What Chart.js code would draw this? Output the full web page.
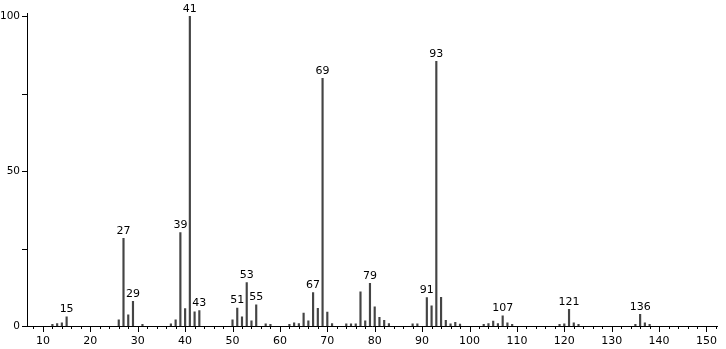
<!DOCTYPE html>
<html>
<head>
<meta charset="utf-8">
<script src="https://cdn.jsdelivr.net/npm/chart.js@4.4.0/dist/chart.umd.min.js"></script>
<style>
  html, body { margin: 0; padding: 0; background: #fff; }
  #wrap { width: 726px; height: 349px; }
</style>
</head>
<body>
<div id="wrap"><canvas id="chart"></canvas></div>
<script>
// m/z values and relative intensities
const masses = [12, 13, 14, 15, 26, 27, 28, 29, 31, 37, 38, 39, 40, 41, 42, 43,
  50, 51, 52, 53, 54, 55, 57, 58, 62, 63, 64, 65, 66, 67, 68, 69, 70, 71,
  74, 75, 76, 77, 78, 79, 80, 81, 82, 83, 88, 89, 91, 92, 93, 94, 95, 96, 97, 98,
  103, 104, 105, 106, 107, 108, 109, 119, 120, 121, 122, 123, 135, 136, 137, 138];
const intensities = [0.5, 0.8, 1.0, 3.0, 2.0, 28.3, 3.6, 8.0, 0.5, 0.7, 2.0, 30.2, 5.6, 100, 4.6, 5.0,
  2.0, 5.8, 3.0, 14.0, 1.7, 6.8, 0.7, 0.5, 0.5, 1.0, 0.8, 4.2, 1.7, 10.8, 5.7, 80, 4.5, 0.8,
  0.7, 0.7, 0.7, 11.0, 1.7, 13.8, 6.2, 2.8, 1.8, 0.8, 0.7, 0.7, 9.2, 6.5, 85.5, 9.3, 1.8, 0.7, 1.2, 0.6,
  0.5, 0.8, 1.6, 0.8, 3.3, 1.0, 0.5, 0.5, 0.7, 5.4, 1.0, 0.5, 0.5, 3.8, 1.0, 0.5];
const labeledPeaks = [15, 27, 29, 39, 41, 43, 51, 53, 55, 67, 69, 79, 91, 93, 107, 121, 136];
const xTickLabels = [10, 20, 30, 40, 50, 60, 70, 80, 90, 100, 110, 120, 130, 140, 150];
const yTickLabels = [0, 50, 100];
const yMinorTicks = [0, 25, 50, 75, 100];

const FONT = { family: "DejaVu Sans", size: 11 };

// peak labels above the marked bars
const peakLabels = {
  id: "peakLabels",
  afterDatasetsDraw(chart) {
    const { ctx, scales: { x, y } } = chart;
    ctx.save();
    ctx.font = `${FONT.size}px ${FONT.family}`;
    ctx.fillStyle = "#000";
    ctx.textAlign = "center";
    ctx.textBaseline = "bottom";
    labeledPeaks.forEach((m) => {
      const v = intensities[masses.indexOf(m)];
      ctx.fillText(String(m), x.getPixelForValue(m), y.getPixelForValue(v) - 2);
    });
    ctx.restore();
  },
};

// tick marks: x every 2 (longer on tens), y every 25
const tickMarks = {
  id: "tickMarks",
  afterDraw(chart) {
    const { ctx, scales: { x, y } } = chart;
    ctx.save();
    ctx.strokeStyle = "#000";
    ctx.lineWidth = 1;
    ctx.beginPath();
    for (let m = 8; m <= 152; m += 2) {
      const px = Math.round(x.getPixelForValue(m)) + 0.5;
      const len = m % 10 === 0 ? 6 : 3;
      ctx.moveTo(px, y.bottom);
      ctx.lineTo(px, y.bottom + len);
    }
    yMinorTicks.forEach((v) => {
      const py = Math.round(y.getPixelForValue(v)) + 0.5;
      ctx.moveTo(x.left - 5, py);
      ctx.lineTo(x.left, py);
    });
    ctx.stroke();
    ctx.restore();
  },
};

new Chart(document.getElementById("chart").getContext("2d"), {
  type: "bar",
  data: {
    datasets: [
      {
        data: masses.map((m, i) => ({ x: m, y: intensities[i] })),
        backgroundColor: "#444",
        barThickness: 1.5,
        grouped: false,
      },
    ],
  },
  options: {
    responsive: true,
    maintainAspectRatio: false,
    animation: false,
    layout: { padding: { top: 1, right: 1, left: 0, bottom: 0 } },
    plugins: { legend: { display: false }, tooltip: { enabled: false } },
    scales: {
      x: {
        type: "linear",
        offset: false,
        min: 6.64,
        max: 152.3,
        grid: { display: false, drawTicks: false },
        border: { display: true, color: "#000", width: 1 },
        ticks: {
          autoSkip: false,
          maxRotation: 0,
          padding: 9,
          color: "#000",
          font: FONT,
        },
        afterBuildTicks: (s) => { s.ticks = xTickLabels.map((v) => ({ value: v })); },
        afterFit: (s) => { s.height = 23; },
      },
      y: {
        min: 0,
        max: 101,
        grid: { display: false, drawTicks: false },
        border: { display: true, color: "#000", width: 1 },
        ticks: {
          padding: 7,
          color: "#000",
          font: { family: FONT.family, size: 10.5 },
        },
        afterBuildTicks: (s) => { s.ticks = yTickLabels.map((v) => ({ value: v })); },
        afterFit: (s) => { s.width = 27; },
      },
    },
  },
  plugins: [peakLabels, tickMarks],
});
</script>
</body>
</html>
